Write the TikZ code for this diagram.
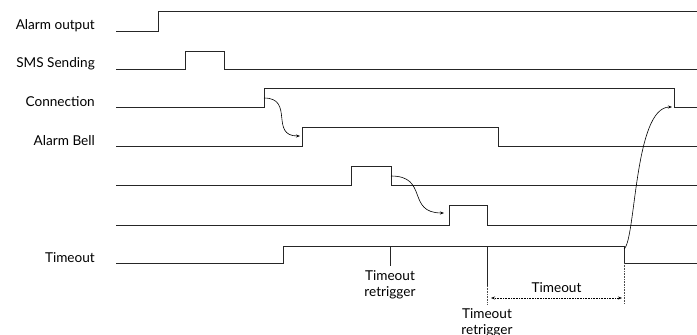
\documentclass[tikz,border=0pt]{standalone}
\usepackage{fontspec}
\setmainfont{Lato}
\usetikzlibrary{arrows.meta, positioning}

\begin{document}
\begin{tikzpicture}[
    x=1pt, y=-1pt,
    >=Stealth,
    wave/.style={line width=0.8pt, black!85},
    siglabel/.style={anchor=base east, inner sep=0pt, font=\fontsize{13.6}{16}\selectfont},
    note/.style={align=center, inner sep=1pt, font=\fontsize{13.6}{16.5}\selectfont},
    cause/.style={-{Stealth[length=4pt, width=3pt]}, line width=0.6pt},
    tick/.style={line width=0.6pt, black!85},
    guide/.style={densely dotted, line width=0.6pt, black!70},
    span/.style={{Stealth[length=4pt, width=3pt]}-{Stealth[length=4pt, width=3pt]}, densely dotted, line width=0.6pt}
]
\useasboundingbox (0,0) rectangle (697,335);

% --- Signal names ---
\node[siglabel] (lalarm) at (95,29)  {Alarm output};
\node[siglabel] (lsms)   at (95,67)  {SMS Sending};
\node[siglabel] (lconn)  at (95,106) {Connection};
\node[siglabel] (lbell)  at (95,145) {Alarm Bell};
\node[siglabel] (ltime)  at (95,262) {Timeout};

% --- Waveforms ---
\draw[wave] (116,31)  -- (158,31)  -- (158,11)  -- (697,11);
\draw[wave] (116,69)  -- (185,69)  -- (185,51)  -- (224,51)  -- (224,69)  -- (697,69);
\draw[wave] (116,107) -- (264,107) -- (264,88)  -- (674,88)  -- (674,107) -- (697,107);
\draw[wave] (116,146) -- (302,146) -- (302,127) -- (498,127) -- (498,146) -- (697,146);
\draw[wave] (116,185) -- (351,185) -- (351,166) -- (391,166) -- (391,185) -- (697,185);
\draw[wave] (116,225) -- (449,225) -- (449,205) -- (487,205) -- (487,225) -- (697,225);
\draw[wave] (116,263) -- (283,263) -- (283,246) -- (624,246) -- (624,263) -- (697,263);

% --- Edge points ---
\coordinate (connup)   at (264,98);
\coordinate (bellup)   at (300,136);
\coordinate (pulsedn)  at (391,176);
\coordinate (pulseup)  at (444,213);
\coordinate (timedn)   at (624,249);
\coordinate (conndn)   at (672,107);

% --- Causal arrows ---
\draw[cause] (connup)  to[out=0, in=180, looseness=1.5] (bellup);
\draw[cause] (pulsedn) to[out=0, in=180, looseness=1.5] (pulseup);
\draw[cause] (timedn)  .. controls (636,240) and (634,107) .. (conndn);

% --- Retrigger marks ---
\coordinate (trig1) at (390,246);
\coordinate (trig1end) at (390,266);
\draw[tick] (trig1) -- (trig1end);
\node[note, anchor=north, yshift=-3pt] (ntrig1) at (trig1end) {Timeout\\retrigger};

\coordinate (trig2) at (487,246);
\coordinate (trig2mid) at (487,286);
\coordinate (trig2end) at (487,304);
\draw[tick] (trig2) -- (trig2mid);
\draw[guide] (trig2mid) -- (trig2end);
\node[note, anchor=north, yshift=-3pt] (ntrig2) at (trig2end) {Timeout\\retrigger};

% --- Timeout interval ---
\coordinate (expire) at (624,263);
\coordinate (expireend) at (624,304);
\draw[guide] (expire) -- (expireend);
\coordinate (spanl) at (491,298);
\coordinate (spanr) at (622,298);
\draw[span] (spanl) -- node[above=5pt, inner sep=0pt, font=\fontsize{13.6}{16}\selectfont] (nspan) {Timeout} (spanr);

\end{tikzpicture}
\end{document}
